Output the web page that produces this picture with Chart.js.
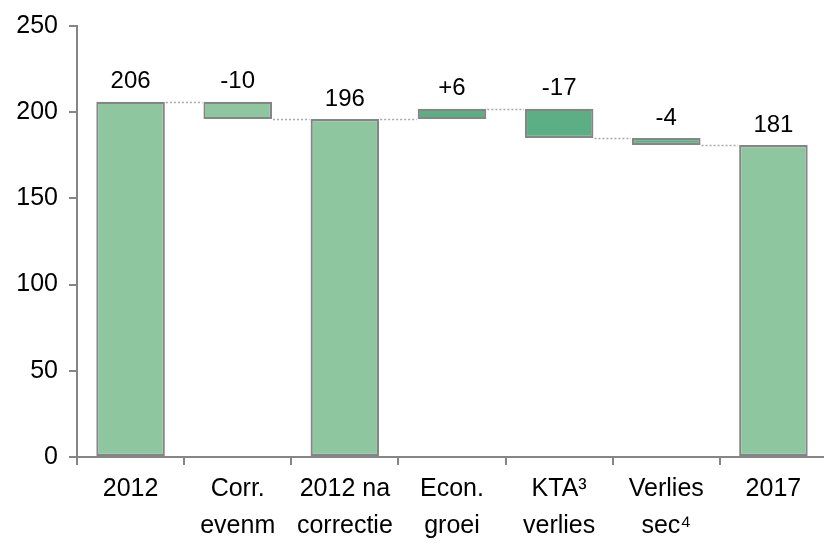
<!DOCTYPE html>
<html>
<head>
<meta charset="utf-8">
<script src="https://cdn.jsdelivr.net/npm/chart.js@4"></script>
<style>
  html, body { margin: 0; padding: 0; background: #fff; overflow: hidden; }
  #wrap { width: 840px; height: 546px; }
</style>
</head>
<body>
<div id="wrap"><canvas id="c" width="840" height="546"></canvas></div>
<script>
// waterfall data
const categories = [['2012'], ['Corr.', 'evenm'], ['2012 na', 'correctie'], ['Econ.', 'groei'], ['KTA³', 'verlies'], ['Verlies', 'sec⁴'], ['2017']];
const values = [206, -10, 196, 6, -17, -4, 181];
const isTotal = [true, false, true, false, false, false, true];
const valueLabels = ['206', '-10', '196', '+6', '-17', '-4', '181'];
const yTicks = [0, 50, 100, 150, 200, 250];

const LIGHT = '#8ec6a0', DARK = '#5caf84', EDGE = '#858585';
const barColors = [LIGHT, LIGHT, LIGHT, DARK, DARK, DARK, LIGHT];

// floating ranges
let run = 0;
const ranges = values.map((v, i) => {
  if (isTotal[i]) { run = v; return [0, v]; }
  const start = run; run += v;
  return [start, run];
});
const levels = ranges.map(r => r[1]);

const extras = {
  id: 'extras',
  afterDatasetsDraw(chart) {
    const ctx = chart.ctx;
    const y = chart.scales.y;
    const bars = chart.getDatasetMeta(0).data;
    // connectors
    ctx.save();
    ctx.strokeStyle = '#a8a8a8';
    ctx.lineWidth = 1.5;
    ctx.setLineDash([2, 2]);
    for (let i = 0; i < bars.length - 1; i++) {
      const py = Math.round(y.getPixelForValue(levels[i])) + 0.5;
      ctx.beginPath();
      ctx.moveTo(bars[i].x + bars[i].width / 2 + 1, py);
      ctx.lineTo(bars[i + 1].x - bars[i + 1].width / 2 - 1, py);
      ctx.stroke();
    }
    ctx.restore();
    // value labels
    ctx.save();
    ctx.font = '24px "Liberation Sans", Arial, sans-serif';
    ctx.fillStyle = '#000';
    ctx.textAlign = 'center';
    ctx.textBaseline = 'middle';
    bars.forEach((b, i) => {
      const top = y.getPixelForValue(Math.max(ranges[i][0], ranges[i][1]));
      ctx.fillText(valueLabels[i], b.x, top - 20);
    });
    ctx.restore();
  }
};

new Chart(document.getElementById('c').getContext('2d'), {
  type: 'bar',
  data: {
    labels: categories,
    datasets: [{
      data: ranges,
      backgroundColor: barColors,
      borderColor: EDGE,
      borderWidth: 2.2,
      borderSkipped: false,
      categoryPercentage: 1,
      barPercentage: 0.64
    }]
  },
  options: {
    responsive: false,
    animation: false,
    layout: { padding: { top: 22, right: 13, left: 0, bottom: 0 } },
    plugins: { legend: { display: false }, tooltip: { enabled: false } },
    scales: {
      x: {
        grid: { drawOnChartArea: false, color: EDGE, lineWidth: 2, tickLength: 8, offset: true },
        border: { color: EDGE, width: 2 },
        ticks: {
          color: '#000',
          font: { family: '"Liberation Sans", Arial', size: 25, lineHeight: 1.5 },
          padding: 5,
          maxRotation: 0,
          autoSkip: false
        },
        afterFit(scale) { scale.height = 89; }
      },
      y: {
        min: 0,
        max: 250,
        afterBuildTicks(scale) { scale.ticks = yTicks.map(v => ({ value: v })); },
        grid: { drawOnChartArea: false, color: EDGE, lineWidth: 2, tickLength: 8 },
        border: { color: EDGE, width: 2 },
        ticks: {
          color: '#000',
          font: { family: '"Liberation Sans", Arial', size: 25 },
          padding: 11
        },
        afterFit(scale) { scale.width = 77; }
      }
    }
  },
  plugins: [extras]
});
</script>
</body>
</html>
